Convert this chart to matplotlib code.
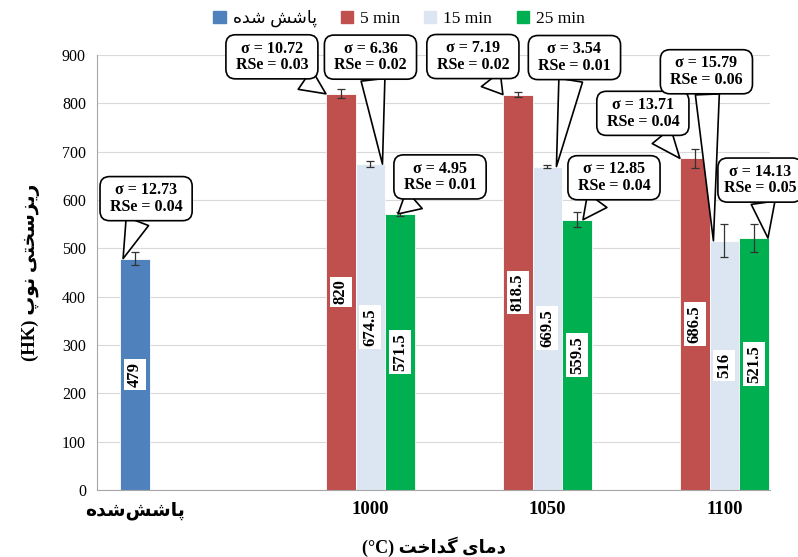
import numpy as np
import matplotlib
matplotlib.use('Agg')
from matplotlib import pyplot as plt
from matplotlib.patches import Patch

# --- small Persian shaping helper (matplotlib has no Arabic shaping / bidi) ---
FORMS = {
    'ا': (0xFE8D, 0xFE8E, None, None),
    'د': (0xFEA9, 0xFEAA, None, None),
    'ر': (0xFEAD, 0xFEAE, None, None),
    'ز': (0xFEAF, 0xFEB0, None, None),
    'و': (0xFEED, 0xFEEE, None, None),
    'پ': (0xFB56, 0xFB57, 0xFB58, 0xFB59),
    'ت': (0xFE95, 0xFE96, 0xFE97, 0xFE98),
    'خ': (0xFEA5, 0xFEA6, 0xFEA7, 0xFEA8),
    'س': (0xFEB1, 0xFEB2, 0xFEB3, 0xFEB4),
    'ش': (0xFEB5, 0xFEB6, 0xFEB7, 0xFEB8),
    'م': (0xFEE1, 0xFEE2, 0xFEE3, 0xFEE4),
    'ن': (0xFEE5, 0xFEE6, 0xFEE7, 0xFEE8),
    'ه': (0xFEE9, 0xFEEA, 0xFEEB, 0xFEEC),
    'ی': (0xFEEF, 0xFEF0, 0xFEF3, 0xFEF4),
    'گ': (0xFB92, 0xFB93, 0xFB94, 0xFB95),
}


def fa(s):
    # only for pure Persian strings: shape letters, then reverse for LTR drawing
    if not any(c in FORMS for c in s):
        return s
    out = []
    for i, c in enumerate(s):
        if c not in FORMS:
            if c != '\u200c':
                out.append(c)
            continue
        prev = s[i - 1] if i > 0 else ''
        nxt = s[i + 1] if i + 1 < len(s) else ''
        jp = prev in FORMS and FORMS[prev][2] is not None
        jn = FORMS[c][2] is not None and nxt in FORMS
        iso, fin, ini, med = FORMS[c]
        if jp and jn:
            code = med
        elif jp:
            code = fin
        elif jn:
            code = ini
        else:
            code = iso
        out.append(chr(code))
    return ''.join(out[::-1])


# --- data ---
categories = ['پاشش\u200cشده', '1000', '1050', '1100']
series_names = ['پاشش شده', '5 min', '15 min', '25 min']
raw_value = 479
raw_err = 14
raw_sigma = 12.73
raw_rse = 0.04
min5 = [820, 818.5, 686.5]
min15 = [674.5, 669.5, 516]
min25 = [571.5, 559.5, 521.5]
err5 = [9, 5.5, 19]
err15 = [5.5, 3, 34]
err25 = [4.5, 15, 29]
sigma5 = [10.72, 7.19, 13.71]
sigma15 = [6.36, 3.54, 15.79]
sigma25 = [4.95, 12.85, 14.13]
rse5 = [0.03, 0.02, 0.04]
rse15 = [0.02, 0.01, 0.06]
rse25 = [0.01, 0.04, 0.05]

colors = ['#4F81BD', '#C0504D', '#DCE6F2', '#00B050']
SERIF = ['Liberation Serif', 'DejaVu Sans']

fig = plt.figure(figsize=(7.98, 5.57), dpi=100)
ax = fig.add_axes([0.1216, 0.12, 0.965 - 0.1216, 0.901 - 0.12])

xpos = np.array([0, 1.33, 2.33, 3.33])
w = 0.167
px = 177.0  # pixels per x unit

ax.bar(xpos[0], raw_value, w, color=colors[0], edgecolor='white', lw=0.6, zorder=2)
ax.errorbar(xpos[0], raw_value, yerr=raw_err, fmt='none', ecolor='#333333',
            elinewidth=0.9, capsize=3, capthick=0.9, zorder=3)
groups = [(min5, err5, -w), (min15, err15, 0), (min25, err25, w)]
for k, (vals, errs, off) in enumerate(groups):
    xs = xpos[1:] + off
    ax.bar(xs, vals, w, color=colors[k + 1], edgecolor='white', lw=0.6, zorder=2)
    ax.errorbar(xs, vals, yerr=errs, fmt='none', ecolor='#333333',
                elinewidth=0.9, capsize=3, capthick=0.9, zorder=3)

# value labels inside bars
def vlabel(x, v):
    txt = ('%g' % v)
    ax.text(x, v / 2, txt, rotation=90, ha='center', va='center', fontsize=12,
            fontweight='bold', family=SERIF, zorder=4,
            bbox=dict(boxstyle='square,pad=0.18', fc='white', ec='none'))

vlabel(xpos[0], raw_value)
for vals, _, off in groups:
    for x, v in zip(xpos[1:] + off, vals):
        vlabel(x, v)

# callouts: (x of bar, value, sigma, rse, tip dx px, box offset px)
def callout(x, v, s, r, tdx, off, sp=' '):
    ax.annotate('%sσ = %.2f%s\n%sRSe = %.2f%s' % (sp, s, sp, sp, r, sp),
                xy=(x + tdx / px, v), xycoords='data',
                xytext=off, textcoords='offset pixels',
                ha='center', va='center', fontsize=11.5, fontweight='bold',
                family=SERIF, zorder=6, annotation_clip=False, linespacing=1.05,
                bbox=dict(boxstyle='round,pad=0.36,rounding_size=0.6', fc='white',
                          ec='black', lw=1.2),
                arrowprops=dict(arrowstyle='wedge,tail_width=1.5,shrink_factor=0.5',
                                fc='white', ec='black', lw=1.2, shrinkA=0, shrinkB=0))

callout(xpos[0], raw_value, raw_sigma, raw_rse, -12, (23, 60))
tips5 = [(-15, (-54, 37)), (-15, (-30, 38)), (-15, (-37, 45))]
tips15 = [(12, (-12, 107)), (9, (18, 109)), (-11, (-7, 169))]
tips25 = [(-2, (42, 37)), (6, (31, 42)), (14, (-8, 58))]
for (vals, _, off), sig, rse, tips in zip(groups, [sigma5, sigma15, sigma25],
                                        [rse5, rse15, rse25], [tips5, tips15, tips25]):
    for j in range(3):
        sp = '' if (tips is tips25 and j == 2) else ' '
        callout(xpos[j + 1] + off, vals[j], sig[j], rse[j], tips[j][0], tips[j][1], sp)

ax.set_xlim(-0.215, 3.588)
ax.set_ylim(0, 900)
ax.set_yticks(np.arange(0, 901, 100))
ax.grid(axis='y', color='#D9D9D9', lw=0.8, zorder=0)
ax.set_axisbelow(True)
for sp in ['top', 'right']:
    ax.spines[sp].set_visible(False)
ax.spines['left'].set_color('#A6A6A6')
ax.spines['bottom'].set_color('#A6A6A6')
ax.tick_params(length=0)
ax.tick_params(axis='y', labelsize=11.5, pad=8)
for t in ax.get_yticklabels():
    t.set_family(SERIF)

ax.set_xticks(xpos)
ax.set_xticklabels([fa(c) for c in categories], fontsize=13.5, fontweight='bold',
                   family=SERIF)
ax.tick_params(axis='x', pad=8)

ax.set_xlabel('(°C) ' + fa('دمای گداخت'), fontsize=13, fontweight='bold',
              family=SERIF, labelpad=12)
ax.set_ylabel('(HK) ' + fa('ریزسختی نوپ'), fontsize=13.5, fontweight='bold',
              family=SERIF, labelpad=16)

handles = [Patch(color=c) for c in colors]
fig.legend(handles, [fa(series_names[0])] + series_names[1:], loc='upper center',
           bbox_to_anchor=(0.5, 1.01), ncol=4, frameon=False,
           prop=dict(family=SERIF, size=12.5), handlelength=0.7, handleheight=0.7,
           handletextpad=0.4, columnspacing=1.4)

plt.savefig('out.png', dpi=100)
